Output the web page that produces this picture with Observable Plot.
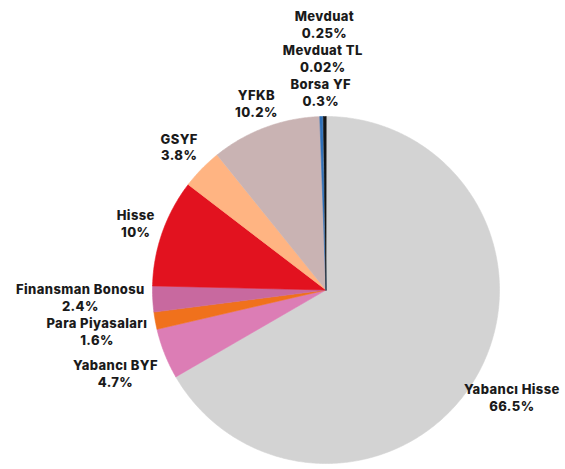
<!DOCTYPE html>
<html><head><meta charset="utf-8">
<script src="https://cdn.jsdelivr.net/npm/d3@7"></script>
<script src="https://cdn.jsdelivr.net/npm/@observablehq/plot@0.6"></script>
<style>html,body{margin:0;padding:0;background:#fff;overflow:hidden} #chart svg{display:block} #chart svg text{letter-spacing:0.4px}</style>
</head><body><div id="chart"></div>
<script>
// Data (clockwise from 12 o'clock)
const categories = ["Yabancı Hisse","Yabancı BYF","Para Piyasaları","Finansman Bonosu","Hisse","GSYF","YFKB","Borsa YF","Mevduat TL","Mevduat"];
const values = [66.5, 4.7, 1.6, 2.4, 10, 3.8, 10.2, 0.3, 0.02, 0.25];
const valueLabels = ["66.5%","4.7%","1.6%","2.4%","10%","3.8%","10.2%","0.3%","0.02%","0.25%"];
const colors = ["#d3d3d3","#dc7db5","#f0711c","#c8699f","#e2121f","#ffb482","#c9b3b3","#2f70b8","#a9cdf0","#141414"];

// Layout
const W = 565, H = 469, CX = 325.5, CY = 289.5, R = 173.5;
const FONT_SIZE = 13, LINE_H = 1.27, FONT_FAMILY = "Inter", FONT_WEIGHT = 800, LS = 0.4, GAP = 8;

const arcs = d3.pie().sort(null).value(d => d)(values);

// slice polygons (pixel units relative to centre, y up)
const rows = [];
arcs.forEach((a, i) => {
  const name = categories[i];
  rows.push({name, x: 0, y: 0});
  const n = Math.max(1, Math.ceil((a.endAngle - a.startAngle) / (Math.PI / 360)));
  for (let k = 0; k <= n; k++) {
    const t = a.startAngle + (a.endAngle - a.startAngle) * k / n;
    rows.push({name, x: R * Math.sin(t), y: R * Math.cos(t)});
  }
});

// label placement: outside end, then push apart on collision
const ctx = document.createElement("canvas").getContext("2d");
ctx.font = `${FONT_WEIGHT} ${FONT_SIZE}px ${FONT_FAMILY}`;
const tw = s => ctx.measureText(s).width + LS * s.length;
const placed = [];
const labels = arcs.map((a, i) => {
  const mid = (a.startAngle + a.endAngle) / 2;
  const dx = Math.sin(mid), dy = Math.cos(mid);
  const w = Math.max(tw(categories[i]), tw(valueLabels[i]));
  const ha = w / 2, hb = FONT_SIZE * LINE_H;
  const k = Math.min(Math.abs(dx) > 1e-6 ? ha / Math.abs(dx) : Infinity, Math.abs(dy) > 1e-6 ? hb / Math.abs(dy) : Infinity);
  let cx = dx * (R + GAP) + dx * k;
  let cy = dy * (R + GAP) + dy * k;
  const outward = cy > 0 ? 1 : -1;
  let moved = true, guard = 0;
  while (moved && guard++ < 50) {
    moved = false;
    for (const p of placed) {
      if (Math.abs(cx - p.cx) < ha + p.ha && Math.abs(cy - p.cy) < hb + p.hb) {
        const diff = cy - p.cy;
        const s = Math.abs(diff) < 1 ? outward : Math.sign(diff);
        cy = p.cy + s * (hb + p.hb + 1);
        moved = true;
      }
    }
  }
  placed.push({cx, cy, ha, hb});
  return {x: cx, y: cy, text: categories[i] + "\n" + valueLabels[i]};
});

const chart = Plot.plot({
  width: W, height: H, margin: 0,
  x: {domain: [-CX, W - CX], axis: null},
  y: {domain: [-(H - CY), CY], axis: null},
  color: {domain: categories, range: colors},
  marks: [
    Plot.line(rows, {x: "x", y: "y", z: "name", fill: "name", stroke: "name", strokeWidth: 0.6, curve: "linear-closed"}),
    Plot.text(labels, {x: "x", y: "y", text: "text", fontSize: FONT_SIZE, fontWeight: FONT_WEIGHT, fontFamily: FONT_FAMILY, lineHeight: LINE_H, fill: "#1a1a1a", textAnchor: "middle", lineAnchor: "middle"})
  ]
});
document.getElementById("chart").appendChild(chart);
</script>
</body></html>
